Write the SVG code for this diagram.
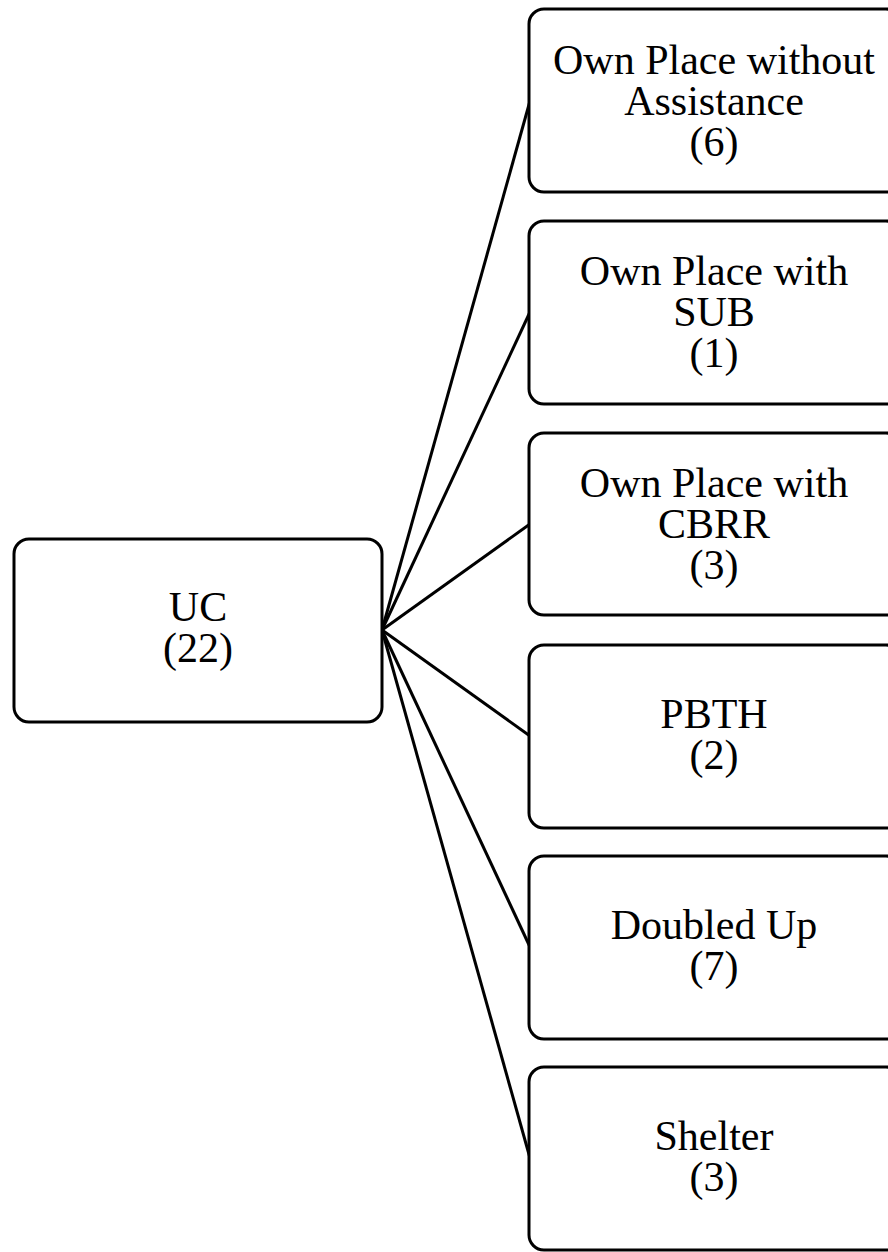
<svg xmlns="http://www.w3.org/2000/svg" width="888" height="1252" viewBox="0 0 888 1252">
  <style>
    .box { fill: #ffffff; stroke: #000000; stroke-width: 3; }
    .lbl { font-family: "Liberation Serif", "Times New Roman", serif; font-size: 42px; fill: #000000; text-anchor: middle; }
    .edge { stroke: #000000; stroke-width: 3; fill: none; }
  </style>
  <rect width="888" height="1252" fill="#ffffff"/>

  <!-- connectors fanning out from the root node -->
  <g id="connectors">
    <line class="edge" x1="382" y1="630" x2="530" y2="101"/>
    <line class="edge" x1="382" y1="630" x2="530" y2="312"/>
    <line class="edge" x1="382" y1="630" x2="530" y2="524"/>
    <line class="edge" x1="382" y1="630" x2="530" y2="736"/>
    <line class="edge" x1="382" y1="630" x2="530" y2="947"/>
    <line class="edge" x1="382" y1="630" x2="530" y2="1158"/>
  </g>

  <!-- root node -->
  <g id="uc">
    <rect class="box" x="14" y="539" width="368" height="183" rx="15"/>
    <text class="lbl" x="198" y="621">UC</text>
    <text class="lbl" x="198" y="662">(22)</text>
  </g>

  <!-- outcome nodes -->
  <g id="own-place-without-assistance">
    <rect class="box" x="529" y="9" width="372" height="183" rx="15"/>
    <text class="lbl" x="714" y="74">Own Place without</text>
    <text class="lbl" x="714" y="115">Assistance</text>
    <text class="lbl" x="714" y="156">(6)</text>
  </g>
  <g id="own-place-with-sub">
    <rect class="box" x="529" y="221" width="372" height="183" rx="15"/>
    <text class="lbl" x="714" y="285">Own Place with</text>
    <text class="lbl" x="714" y="326">SUB</text>
    <text class="lbl" x="714" y="367">(1)</text>
  </g>
  <g id="own-place-with-cbrr">
    <rect class="box" x="529" y="433" width="372" height="182" rx="15"/>
    <text class="lbl" x="714" y="497">Own Place with</text>
    <text class="lbl" x="714" y="538">CBRR</text>
    <text class="lbl" x="714" y="579">(3)</text>
  </g>
  <g id="pbth">
    <rect class="box" x="529" y="645" width="372" height="183" rx="15"/>
    <text class="lbl" x="714" y="728">PBTH</text>
    <text class="lbl" x="714" y="769">(2)</text>
  </g>
  <g id="doubled-up">
    <rect class="box" x="529" y="856" width="372" height="183" rx="15"/>
    <text class="lbl" x="714" y="939">Doubled Up</text>
    <text class="lbl" x="714" y="980">(7)</text>
  </g>
  <g id="shelter">
    <rect class="box" x="529" y="1067" width="372" height="183" rx="15"/>
    <text class="lbl" x="714" y="1150">Shelter</text>
    <text class="lbl" x="714" y="1191">(3)</text>
  </g>
</svg>
